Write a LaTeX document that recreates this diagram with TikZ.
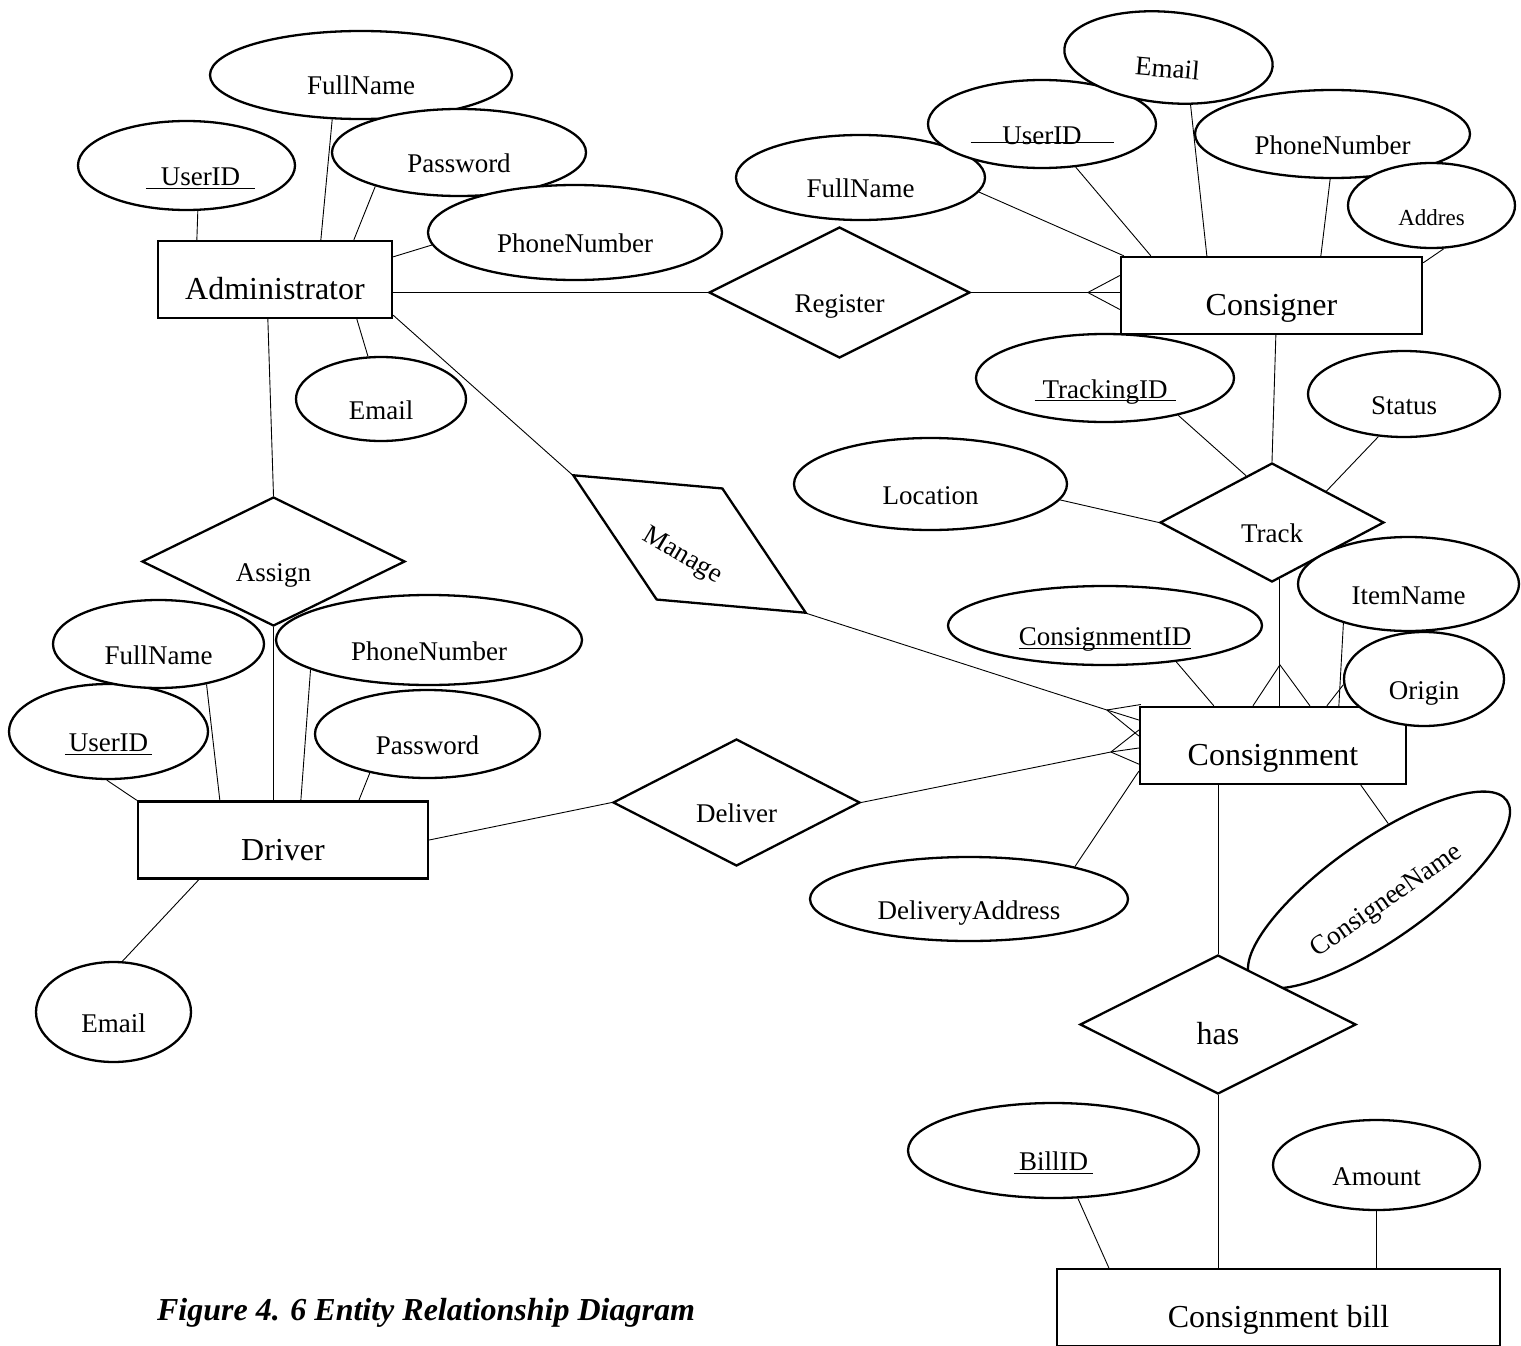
\documentclass[tikz,border=0pt]{standalone}
\usepackage{fontspec}
\setmainfont{Liberation Serif}
\usepackage{tikz}
\usetikzlibrary{shapes.geometric,calc}

\newcommand{\attrfont}{\fontsize{27pt}{29pt}\selectfont}
\newcommand{\entfont}{\fontsize{32pt}{34pt}\selectfont}
\newcommand{\captfont}{\fontsize{32pt}{34pt}\selectfont\bfseries\itshape}
% key attribute: rule under the text, #1 = overhang on each side
\newcommand{\keyline}[2][0pt]{%
  \setbox0=\hbox{#2}%
  \dimen0=\dimexpr\wd0+#1+#1\relax
  \hbox to \dimen0{\rlap{\rule[-3pt]{\dimen0}{1pt}}\hfill\box0\hfill}}

\tikzset{
  entity/.style={draw,line width=2.3pt,fill=white,rectangle,minimum width=#1,minimum height=77pt,
    inner sep=0pt,text height=40pt,text depth=0pt,font=\entfont},
  attr/.style 2 args={draw,line width=2.3pt,fill=white,ellipse,minimum width=#1,minimum height=#2,
    inner sep=0pt,text height=40pt,text depth=0pt,font=\attrfont},
  rel/.style 2 args={draw,line width=2.3pt,fill=white,diamond,shape aspect=2,minimum width=#1,
    minimum height=#2,inner sep=0pt,text height=40pt,text depth=0pt,font=\attrfont},
  link/.style={line width=0.9pt}
}

\begin{document}
\begin{tikzpicture}[x=1pt,y=-1pt]
    \useasboundingbox (0,0) rectangle (1521,1346);

    % entities
    \node[entity=234pt] (adm) at (275,279.5) {Administrator};
    \node[entity=301pt] (cns) at (1271.5,295.5) {Consigner};
    \node[entity=266pt] (csg) at (1273,745.5) {Consignment};
    \node[entity=290pt] (drv) at (283,840) {Driver};
    \node[entity=443pt] (bill) at (1278.5,1307.5) {Consignment bill};

    % relationships
    \node[rel={261pt}{131pt}] (reg) at (839.5,292.5) {Register};
    \node[rel={263pt}{129pt}] (asn) at (273.5,561.5) {Assign};
    \node[rel={247pt}{127pt}] (dlv) at (736.5,802.5) {Deliver};
    \node[rel={224pt}{119pt}] (trk) at (1272,522.5) {Track};
    \node[rel={271pt}{130pt},rotate=-30.6] (mng) at (689.5,544) {Manage};

    % administrator attributes
    \node[attr={302pt}{88pt}] (a-fn) at (361,75) {FullName};
    \node[attr={217pt}{89pt}] (a-uid) at (186.5,165.5) {\hspace*{28pt}\keyline[15pt]{UserID}};
    \node[attr={254pt}{87pt}] (a-pw) at (459,152.5) {Password};
    \node[attr={294pt}{95pt}] (a-ph) at (575,232.5) {PhoneNumber};
    \node[attr={170pt}{84pt}] (a-em) at (381,399) {Email};

    % consigner attributes
    \node[attr={249pt}{85pt}] (c-fn) at (860.5,177.5) {FullName};
    \node[attr={228pt}{88pt}] (c-uid) at (1042,124)
        {\makebox[143pt]{\rlap{\rule[1.5pt]{143pt}{1pt}}\hfill UserID\hfill}};
    \node[attr={209pt}{91pt},rotate=-5] (c-em) at (1168.5,57.5) {Email};
    \node[attr={275pt}{88pt}] (c-ph) at (1332.5,134) {PhoneNumber};
    \node[attr={167pt}{85pt},font=\fontsize{23pt}{25pt}\selectfont] (c-ad) at (1431.5,205.5) {Addres};

    % track attributes
    \node[attr={258pt}{88pt}] (t-id) at (1105,378) {\keyline[8pt]{TrackingID}};
    \node[attr={192pt}{86pt}] (t-st) at (1404,394) {Status};
    \node[attr={273pt}{92pt}] (t-loc) at (930.5,484) {Location};

    % consignment attributes
    \node[attr={314pt}{79pt}] (g-cid) at (1105,625.5) {\keyline{ConsignmentID}};
    \node[attr={221pt}{94pt}] (g-item) at (1408.5,584) {ItemName};
    \node[attr={160pt}{94pt}] (g-org) at (1424,679) {Origin};
    \node[attr={318pt}{84pt}] (g-dadr) at (969,899) {DeliveryAddress};
    \node[attr={312pt}{100pt},rotate=35] (g-cnee) at (1379,890) {ConsigneeName};
    \node[rel={276pt}{139pt},font=\entfont] (has) at (1218,1024.5) {has};

    % driver attributes
    \node[attr={199pt}{95pt}] (d-uid) at (108.5,731.5) {\keyline[4pt]{UserID}};
    \node[attr={211pt}{88pt}] (d-fn) at (158.5,644) {FullName};
    \node[attr={306pt}{90pt}] (d-ph) at (429,640) {PhoneNumber};
    \node[attr={225pt}{88pt}] (d-pw) at (427.5,734) {Password};
    \node[attr={155pt}{100pt}] (d-em) at (113.5,1012) {Email};

    % bill attributes
    \node[attr={291pt}{95pt}] (b-id) at (1053.5,1150.5) {\keyline[5pt]{BillID}};
    \node[attr={207pt}{90pt}] (b-amt) at (1376.5,1165) {Amount};

    % caption
    \node[font=\captfont] (cap) at (426,1313) {Figure 4. 6 Entity Relationship Diagram};

    % administrator links
    \draw[link] (a-uid.-76) -- ([xshift=40pt]adm.north west);
    \draw[link] (a-fn.-123) -- ([xshift=164pt]adm.north west);
    \draw[link] (a-pw.-158) -- ([xshift=197pt]adm.north west);
    \draw[link] (a-ph.-175) -- ([yshift=-17pt]adm.north east);
    \draw[link] (a-em.107) -- ([xshift=200pt]adm.south west);
    \draw[link] (adm.east |- reg.west) -- (reg.west);
    \draw[link] ([xshift=111pt]adm.south west) -- (asn.north);
    \draw[link] ([yshift=4pt]adm.south east) -- (mng.west);

    % consigner links
    \draw[link] (c-fn.-7) -- ([xshift=4pt]cns.north west);
    \draw[link] (c-uid.-52) -- ([xshift=31pt]cns.north west);
    \draw[link] (c-em.-60) -- ([xshift=87pt]cns.north west);
    \draw[link] (c-ph.-93) -- ([xshift=201pt]cns.north west);
    \draw[link] (c-ad.-74) -- ([yshift=-7pt]cns.north east);

    % register - consigner (many)
    \coordinate (cf-reg) at ($(reg.east -| cns.west)+(-32,0)$);
    \draw[link] (reg.east) -- (reg.east -| cns.west);
    \draw[link] ($(reg.east -| cns.west)+(0,-17)$) -- (cf-reg) -- ($(reg.east -| cns.west)+(0,17)$);

    % track links
    \draw[link] ([xshift=156pt]cns.south west) -- (trk.north);
    \draw[link] (t-id.-27.6) -- (trk.119);
    \draw[link] (t-st.-121.5) -- (trk.30.6);
    \draw[link] (t-loc.-7.7) -- (trk.west);
    \coordinate (cf-trk) at ($(trk.-82 |- csg.north)+(0,-41)$);
    \draw[link] (trk.-82) -- (trk.-82 |- csg.north);
    \draw[link] ($(cf-trk |- csg.north)+(-27,0)$) -- (cf-trk) -- ($(cf-trk |- csg.north)+(30,0)$);

    % consignment links
    \draw[link] (g-cid.-27) -- ([xshift=75pt]csg.north west);
    \draw[link] (g-item.-149) -- ([xshift=200pt]csg.north west);
    \draw[link] (g-org.-176) -- ([xshift=188pt]csg.north west);
    \draw[link] (g-cnee.47) -- ([xshift=222pt]csg.south west);
    \draw[link] (g-dadr.17) -- ([yshift=14pt]csg.south west);
    \draw[link] (has.north) -- (has.north |- csg.south);

    % manage - consignment (many)
    \coordinate (cf-mng) at ($(csg.west)+(-32,-35.5)$);
    \draw[link] (mng.east) -- (cf-mng);
    \draw[link] (cf-mng) -- ($(csg.west)+(2,-41)$);
    \draw[link] (cf-mng) -- ($(csg.west)+(0,-25.5)$);
    \draw[link] (cf-mng) -- ($(csg.west)+(0,-9.5)$);

    % deliver - consignment (many)
    \coordinate (cf-dlv) at ($(csg.west)+(-28,6.5)$);
    \draw[link] (dlv.east) -- (cf-dlv);
    \draw[link] (cf-dlv) -- ($(csg.west)+(0,-15.5)$);
    \draw[link] (cf-dlv) -- ($(csg.west)+(0,2.5)$);
    \draw[link] (cf-dlv) -- ($(csg.west)+(2,19.5)$);

    % driver links
    \draw[link] (d-uid.-92) -- (drv.north west);
    \draw[link] (d-fn.-40) -- ([xshift=83pt]drv.north west);
    \draw[link] (asn.south) -- (asn.south |- drv.north);
    \draw[link] (d-ph.-166) -- ([xshift=164pt]drv.north west);
    \draw[link] (d-pw.-146) -- ([xshift=222pt]drv.north west);
    \draw[link] (d-em.80) -- ([xshift=62pt]drv.south west);
    \draw[link] (drv.east) -- (dlv.west);

    % bill links
    \draw[link] (b-id.-63) -- ([xshift=53pt]bill.north west);
    \draw[link] (has.south) -- (has.south |- bill.north);
    \draw[link] (b-amt.south) -- (b-amt.south |- bill.north);
\end{tikzpicture}
\end{document}
